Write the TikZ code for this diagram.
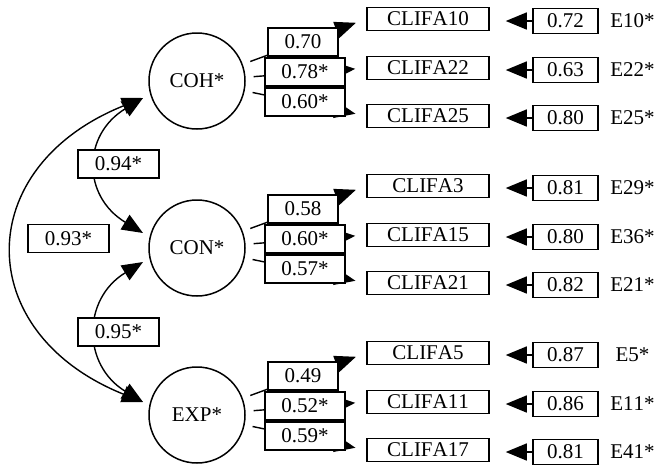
\documentclass[tikz,border=0pt]{standalone}
\usepackage{fontspec}
\setmainfont{Liberation Serif}[Kerning=Off]
\usetikzlibrary{arrows.meta,calc}
\tikzset{
  latent/.style={circle, draw, line width=1.5pt, minimum size=96pt, inner sep=0pt},
  ind/.style={draw, line width=1.5pt, minimum width=122pt, minimum height=23pt, inner sep=0pt},
  err/.style={draw, line width=1.5pt, minimum width=65pt, minimum height=25pt, inner sep=0pt},
  elab/.style={inner sep=0pt},
  coef/.style={draw, fill=white, line width=1.5pt, minimum width=80pt, minimum height=28pt, inner sep=0pt},
  coefn/.style={coef, minimum width=70pt},
  tip/.tip={Triangle[length=21pt,width=17pt]},
  load/.style={line width=1.4pt, -tip, shorten <=8pt, shorten >=11pt},
  resid/.style={line width=1.4pt, -tip, shorten >=16pt},
  cov/.style={line width=1.4pt, tip-tip},
}
\begin{document}
\begin{tikzpicture}[x=1pt,y=-1pt,font=\fontsize{21}{24}\selectfont]
\useasboundingbox (0,0) rectangle (664,467);
% latent factors
\node[latent] (coh) at (197,81) {COH*};
\node[latent] (con) at (197,248) {CON*};
\node[latent] (exp) at (197,415) {EXP*};
% indicators
\foreach \f/\a/\b/\c in {coh/10/22/25, con/3/15/21, exp/5/11/17}{
  \node[ind] (c\a) at ($(\f)+(231,-62)$) {CLIFA\a};
  \node[ind] (c\b) at ($(\f)+(231,-13)$) {CLIFA\b};
  \node[ind] (c\c) at ($(\f)+(231,35)$) {CLIFA\c};
}
% error boxes
\foreach \i/\v/\e in {10/0.72/E10*, 22/0.63/E22*, 25/0.80/E25*, 3/0.81/E29*, 15/0.80/E36*, 21/0.82/E21*, 5/0.87/E5*, 11/0.86/E11*, 17/0.81/E41*}{
  \node[err] (e\i) at ($(c\i)+(137.5,2)$) {\v};
  \node[elab] (l\i) at ($(e\i)+(67,0)$) {\e};
  \draw[resid] (e\i.west) -- (e\i.west -| c\i.east);
}
% loadings
\foreach \f/\a/\b/\c in {coh/10/22/25, con/3/15/21, exp/5/11/17}{
  \draw[load] (\f) -- (c\a.west);
  \draw[load] (\f) -- (c\b.west);
  \draw[load] (\f) -- (c\c.west);
}
\node[coefn] (k10) at ($(coh)+(106,-39)$) {0.70};
\node[coef]  (k22) at ($(coh)+(108,-9)$) {0.78*};
\node[coef]  (k25) at ($(coh)+(108,21)$) {0.60*};
\node[coefn] (k3)  at ($(con)+(106,-39)$) {0.58};
\node[coef]  (k15) at ($(con)+(108,-9)$) {0.60*};
\node[coef]  (k21) at ($(con)+(108,21)$) {0.57*};
\node[coefn] (k5)  at ($(exp)+(106,-39)$) {0.49};
\node[coef]  (k11) at ($(exp)+(108,-9)$) {0.52*};
\node[coef]  (k17) at ($(exp)+(108,21)$) {0.59*};
% covariances
\coordinate (cohL) at ($(coh)+(-54,17)$);
\coordinate (conLa) at ($(con)+(-54,-15)$);
\coordinate (conLb) at ($(con)+(-54,14)$);
\coordinate (expL) at ($(exp)+(-54,-13)$);
\draw[cov] (cohL) .. controls +(-172,69) and +(-172,-69) .. (expL);
\draw[cov] (cohL) .. controls +(-61,37) and +(-61,-37) .. (conLa);
\draw[cov] (conLb) .. controls +(-61,37) and +(-61,-37) .. (expL);
\node[coef, minimum width=81pt] (r12) at (118.5,164) {0.94*};
\node[coef, minimum width=81pt] (r13) at (68.5,238.5) {0.93*};
\node[coef, minimum width=81pt] (r23) at (118.5,332) {0.95*};
\end{tikzpicture}
\end{document}
